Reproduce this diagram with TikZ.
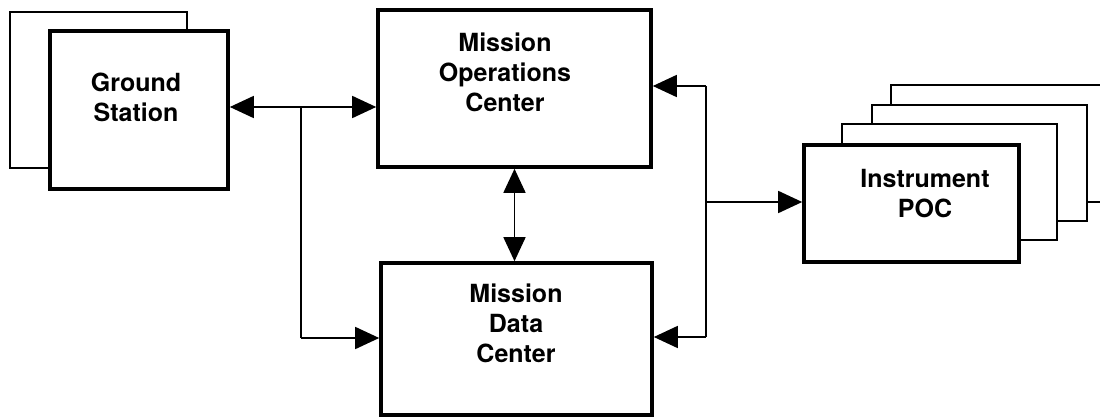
\documentclass[tikz,border=0pt]{standalone}
\usepackage{fontspec}
\setmainfont{TeX Gyre Heros}
\usetikzlibrary{arrows.meta}
\tikzset{
  mainbox/.style={draw, line width=3.6pt, fill=white, inner sep=0pt},
  backbox/.style={draw, line width=1.8pt, fill=white, inner sep=0pt},
  lbl/.style={font=\fontsize{25}{30}\selectfont\bfseries, align=center, inner sep=0pt},
  link/.style={line width=1.6pt},
  tip/.style={link, -{Triangle[length=24pt,width=22pt]}},
  tips/.style={link, {Triangle[length=24pt,width=22pt]}-{Triangle[length=24pt,width=22pt]}}
}
\begin{document}
\begin{tikzpicture}[x=1pt,y=-1pt]
\useasboundingbox (0,0) rectangle (1100,417);
\clip (0,0) rectangle (1100,417);

% Ground station pair
\node[backbox, minimum width=177pt, minimum height=156pt] (gsback) at (98.5,90) {};
\node[mainbox, minimum width=178pt, minimum height=158pt] (gs) at (139,110) {};
\node[lbl] (gstext) at (136,97) {Ground\\Station};

% Operations and data centers
\node[mainbox, minimum width=273pt, minimum height=157pt] (moc) at (514.5,88.5) {};
\node[lbl] (moctext) at (505,72) {Mission\\Operations\\Center};
\node[mainbox, minimum width=271pt, minimum height=152pt] (mdc) at (516.5,339) {};
\node[lbl] (mdctext) at (516,323) {Mission\\Data\\Center};

% Stack of instrument POCs
\node[backbox, minimum width=215pt, minimum height=117pt] (poc4) at (998.5,143.5) {};
\node[backbox, minimum width=215pt, minimum height=116pt] (poc3) at (979.5,163) {};
\node[backbox, minimum width=215pt, minimum height=116pt] (poc2) at (949.5,182) {};
\node[mainbox, minimum width=215pt, minimum height=117pt] (poc) at (911.5,203.5) {};
\node[lbl] (poctext) at (925,194) {Instrument\\POC};

% Junctions
\coordinate (jl) at (301,107);
\coordinate (jlb) at (301,338);
\coordinate (jr) at (706,202);
\coordinate (jrt) at (706,86);
\coordinate (jrb) at (706,337);

% Ground station links
\draw[tip] (jl) -- (jl -| gs.east);
\draw[tip] (jl) -- (jl -| moc.west);
\draw[link] (jl) -- (jlb);
\draw[tip] (jlb) -- (jlb -| mdc.west);

% Operations <-> data
\draw[tips] (moc.south) -- (moc.south |- mdc.north);

% Instrument links
\draw[link] (jrt) -- (jrb);
\draw[tip] (jrt) -- (jrt -| moc.east);
\draw[tip] (jrb) -- (jrb -| mdc.east);
\draw[tip] (jr) -- (jr -| poc.west);
\end{tikzpicture}
\end{document}
